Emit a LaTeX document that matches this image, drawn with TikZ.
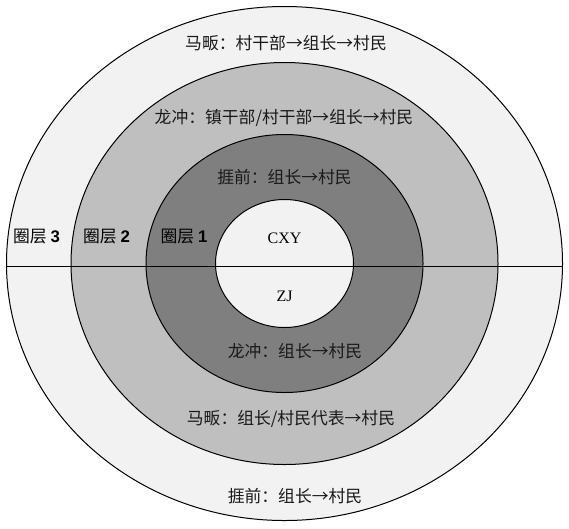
\documentclass[tikz,border=0pt]{standalone}
\usepackage{fontspec}
\setmainfont{Liberation Serif}
\newfontfamily\cjk{Noto Sans CJK SC}
\newfontfamily\lsans{Liberation Sans}
\definecolor{ringC}{HTML}{F2F2F2}
\definecolor{ringB}{HTML}{BFBFBF}
\definecolor{ringA}{HTML}{7F7F7F}
\definecolor{coreC}{HTML}{F2F2F2}
\definecolor{txt}{HTML}{1A1A1A}
\begin{document}
\begin{tikzpicture}[x=1pt,y=-1pt,
  ring/.style={draw=black,line width=1pt},
  lbl/.style={inner sep=0pt,font=\cjk\fontsize{16.8}{18}\selectfont,text=txt},
  lat/.style={inner sep=0pt,font=\fontsize{16}{18}\selectfont,text=black},
  lay/.style={inner sep=0pt,font=\cjk\fontsize{16.8}{18}\selectfont,text=black}]
\useasboundingbox (0,0) rectangle (569,528);
\fill[white] (0,0) rectangle (569,528);
\coordinate (c) at (284.5,263.5);
\filldraw[ring,fill=ringC] (c) ellipse [x radius=278pt, y radius=257pt];
\filldraw[ring,fill=ringB] (c) ellipse [x radius=213.5pt, y radius=201pt];
\filldraw[ring,fill=ringA] (c) ellipse [x radius=138.5pt, y radius=129pt];
\filldraw[ring,fill=coreC] (c) ellipse [x radius=69pt, y radius=64pt];
\coordinate (L) at (6.5,266.5);
\coordinate (R) at (562.5,266.5);
\draw[line width=1pt] (L) -- (R);
\node[lbl] (t1) at (286,43) {马畈：村干部→组长→村民};
\node[lbl] (t2) at (284,118) {龙冲：镇干部/村干部→组长→村民};
\node[lbl] (t3) at (284.5,177) {捱前：组长→村民};
\node[lat] (cxy) at (284.5,238) {CXY};
\node[lat] (zj) at (284.5,296) {ZJ};
\node[lbl] (b1) at (295,351) {龙冲：组长→村民};
\node[lbl] (b2) at (291,419) {马畈：组长/村民代表→村民};
\node[lbl] (b3) at (295,496) {捱前：组长→村民};
\node[lay] (q3) at (36.5,237) {圈层 {\lsans\bfseries 3}};
\node[lay] (q2) at (106.5,237) {圈层 {\lsans\bfseries 2}};
\node[lay] (q1) at (184,237) {圈层 {\lsans\bfseries 1}};
\end{tikzpicture}
\end{document}
